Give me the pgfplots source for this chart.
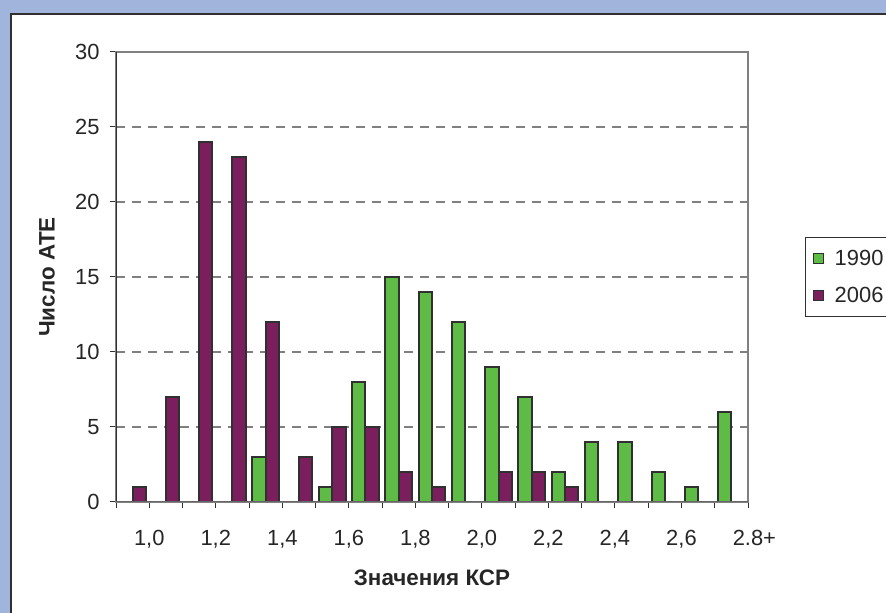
\documentclass[border=0pt]{standalone}
\usepackage{pgfplots}
\pgfplotsset{compat=1.18}
\usepackage{fontspec}
\setmainfont{Liberation Sans}
\definecolor{bgblue}{HTML}{A0B4DC}
\definecolor{cgreen}{HTML}{5EBB46}
\definecolor{cpurple}{HTML}{7B1E5E}
\definecolor{framegray}{HTML}{808080}
\definecolor{darkline}{HTML}{303030}
\begin{document}
\begin{tikzpicture}
\fill[bgblue] (0bp,0bp) rectangle (886bp,613bp);
\path[use as bounding box] (0bp,0bp) rectangle (886bp,613bp);
\filldraw[fill=white, draw=darkline, line width=1.6bp] (10.8bp,-10bp) rectangle (900bp,598.8bp);
\begin{axis}[
  at={(116bp,111bp)}, anchor=south west,
  scale only axis, width=632bp, height=450bp,
  xmin=0, xmax=19, ymin=0, ymax=30,
  ybar, bar width=0.4, bar shift=0pt,
  xtick={0,...,19},
  xticklabels={{},{1,0},{},{1,2},{},{1,4},{},{1,6},{},{1,8},{},{2,0},{},{2,2},{},{2,4},{},{2,6},{},{2.8\rlap{+}}},
  ytick={0,5,...,30},
  tick pos=left, tick align=outside,
  major tick length=6bp,
  tick style={darkline, line width=1bp},
  axis line style={framegray, line width=1.5bp},
  /pgf/number format/assume math mode=true,
  tick label style={font=\fontsize{22}{26}\selectfont, text=black!85},
  xticklabel style={yshift=-19bp},
  yticklabel style={xshift=-7bp},
  ymajorgrids,
  major grid style={framegray, line width=1.2bp, dash pattern=on 9bp off 7bp},
  xlabel={\textbf{Значения КСР}},
  ylabel={\textbf{Число АТЕ}},
  every axis x label/.style={at={(axis description cs:0.5,-0.1678)}, anchor=center, font=\fontsize{22.5}{26}\selectfont, text=black!85},
  every axis y label/.style={at={(axis description cs:-0.109,0.5)}, anchor=center, rotate=90, font=\fontsize{22.5}{26}\selectfont, text=black!85},
  legend style={at={(axis description cs:1.0902,0.5889)}, anchor=north west,
    draw=darkline, line width=1bp, font=\fontsize{22}{26}\selectfont, text=black!85,
    inner xsep=7bp, inner ysep=10.5bp, row sep=16bp, cells={anchor=west}},
  legend image code/.code={\draw[#1, draw=darkline, line width=1.2bp] (0bp,-5bp) rectangle (10bp,5bp);},
]
\addplot[fill=cgreen, draw=darkline, line width=2bp] coordinates {
 (4.3,3) (6.3,1) (7.3,8) (8.3,15) (9.3,14) (10.3,12) (11.3,9) (12.3,7)
 (13.3,2) (14.3,4) (15.3,4) (16.3,2) (17.3,1) (18.3,6)};
\addlegendentry{\makebox[70bp][l]{\hspace{9bp}1990}}
\addplot[fill=cpurple, draw=darkline, line width=2bp] coordinates {
 (0.7,1) (1.7,7) (2.7,24) (3.7,23) (4.7,12) (5.7,3) (6.7,5) (7.7,5)
 (8.7,2) (9.7,1) (11.7,2) (12.7,2) (13.7,1)};
\addlegendentry{\makebox[70bp][l]{\hspace{9bp}2006}}
\draw[darkline, line width=1.4bp] (rel axis cs:0,1) -- (rel axis cs:0,0);
\draw[black!60, line width=1.5bp] (rel axis cs:0,0) -- (rel axis cs:1,0);
\end{axis}
\end{tikzpicture}
\end{document}
